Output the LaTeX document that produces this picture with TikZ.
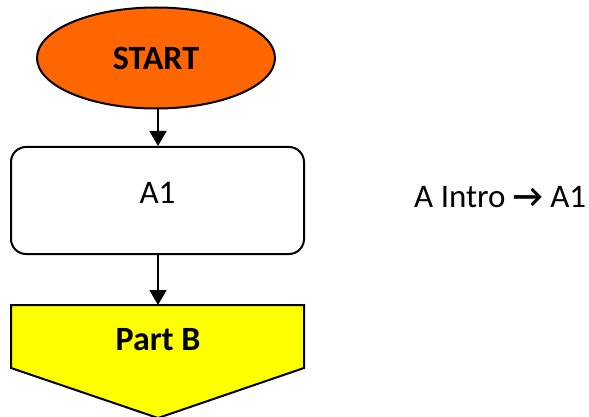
\documentclass[tikz,border=0pt]{standalone}
\usepackage{fontspec}
\setmainfont{Carlito}
\usetikzlibrary{shapes.geometric,arrows.meta}
\definecolor{startorange}{HTML}{FF6600}
\definecolor{partyellow}{HTML}{FFFF00}
\begin{document}
\begin{tikzpicture}[x=1pt,y=-1pt,
  outline/.style={draw=black,line width=2pt},
  flowarrow/.style={line width=1.6pt,-{Triangle[length=15pt,width=17pt]}},
  label/.style={font=\fontsize{33}{38}\selectfont},
  boldlabel/.style={font=\fontsize{34}{38}\selectfont\bfseries}]
\useasboundingbox (0,0) rectangle (589,417);
% start terminal
\node[outline,ellipse,fill=startorange,minimum width=238pt,minimum height=101pt,inner sep=0pt,
      boldlabel] (start) at (156,58) {START};
% process box
\node[outline,rectangle,rounded corners=15pt,fill=white,minimum width=293pt,minimum height=107pt,
      inner sep=0pt] (a1) at (157.5,200.5) {};
\node[label] (a1t) at (157.5,193) {A1};
% off-page connector
\draw[outline,fill=partyellow,line join=miter] (11,305) -- (304,305) -- (304,368) -- (158,418) -- (11,368) -- cycle;
\coordinate (pb) at (158,305);
\node[boldlabel] (pbt) at (158,340) {Part B};
% connectors
\draw[flowarrow] (start.south -| pb) -- (a1.north -| pb);
\draw[flowarrow] (a1.south -| pb) -- (pb);
% side note
\node[label,anchor=west,inner sep=0pt] (note) at (414,197) {A Intro {\bfseries →} A1};
\end{tikzpicture}
\end{document}
